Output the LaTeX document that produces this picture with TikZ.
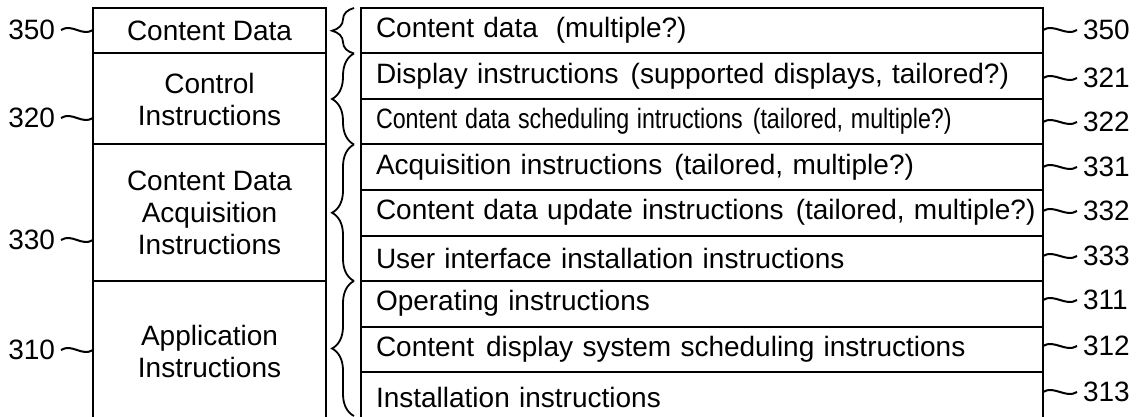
\documentclass[tikz,border=0pt]{standalone}
\usepackage{fontspec}
\setmainfont{Liberation Sans}
\usepackage{graphicx}
\usetikzlibrary{positioning,decorations.pathreplacing}

\begin{document}
\begin{tikzpicture}[x=1pt,y=-1pt,line width=2pt,node distance=0pt,
		font=\fontsize{28}{32}\selectfont,
		group/.style={draw,minimum width=233pt,inner sep=0pt,outer sep=0pt,align=center},
		item/.style={draw,text width=652pt,inner xsep=15pt,inner ysep=0pt,outer sep=0pt,minimum height=45.5pt,align=left},
		num/.style={inner sep=5pt},
		squiggle/.style={line width=1.4pt,to path={.. controls +(11,-7) and +(-11,7) .. (\tikztotarget)}},
		grp/.style={line width=1.8pt,decorate,decoration={brace,amplitude=22pt}}]
		\useasboundingbox (0,0) rectangle (1141,417);
		\clip (0,0) rectangle (1141,417);

		% left column
		\node[group,minimum height=45.5pt,anchor=north west] (cd) at (93,8) {Content Data};
		\node[group,minimum height=91pt] (ctl) [below=of cd] {Control\\Instructions};
		\node[group,minimum height=136.5pt] (acq) [below=of ctl] {Content Data\\Acquisition\\Instructions};
		\node[group,minimum height=140pt] (app) [below=of acq] {Application\\Instructions};

		% right column
		\node[item,anchor=north west] (i350) at (361,8) {Content data\hspace{18pt}(multiple?)};
		\node[item] (i321) [below=of i350] {Display instructions\hspace{12pt}(supported displays, tailored?)};
		\node[item] (i322) [below=of i321] {\scalebox{0.83}[1]{Content data scheduling intructions\hspace{12pt}(tailored, multiple?)}};
		\node[item] (i331) [below=of i322] {Acquisition instructions\hspace{12pt}(tailored, multiple?)};
		\node[item] (i332) [below=of i331] {\mbox{Content data update instructions\hspace{12pt}(tailored, multiple?)}};
		\node[item] (i333) [below=of i332] {User interface installation instructions};
		\node[item] (i311) [below=of i333] {Operating instructions};
		\node[item] (i312) [below=of i311] {Content\hspace{12pt}display system scheduling instructions};
		\node[item,minimum height=50pt] (i313) [below=of i312] {Installation instructions};

		% braces
		\draw[grp] ([xshift=28pt]cd.south east) -- ([xshift=28pt]cd.north east);
		\draw[grp] ([xshift=28pt]ctl.south east) -- ([xshift=28pt]ctl.north east);
		\draw[grp] ([xshift=28pt]acq.south east) -- ([xshift=28pt]acq.north east);
		\draw[grp] ([xshift=28pt,yshift=5pt]app.south east) -- ([xshift=28pt]app.north east);

		% reference numbers
		\node[num,anchor=east] (n350) at (61,30) {350};
		\node[num,anchor=east] (n320) at (61,118) {320};
		\node[num,anchor=east] (n330) at (61,240) {330};
		\node[num,anchor=east] (n310) at (61,350) {310};
		\draw (n350.east) to[squiggle] (n350.east -| cd.west);
		\draw (n320.east) to[squiggle] (n320.east -| ctl.west);
		\draw (n330.east) to[squiggle] (n330.east -| acq.west);
		\draw (n310.east) to[squiggle] (n310.east -| app.west);

		\node[num,anchor=west] (m350) at (1077,30) {350};
		\node[num,anchor=west] (m321) at (1077,78) {321};
		\node[num,anchor=west] (m322) at (1077,122) {322};
		\node[num,anchor=west] (m331) at (1077,167) {331};
		\node[num,anchor=west] (m332) at (1077,211) {332};
		\node[num,anchor=west] (m333) at (1077,256) {333};
		\node[num,anchor=west] (m311) at (1077,300) {311};
		\node[num,anchor=west] (m312) at (1077,346) {312};
		\node[num,anchor=west] (m313) at (1077,392) {313};
		\draw (m350.west -| i350.east) to[squiggle] (m350.west);
		\draw (m321.west -| i321.east) to[squiggle] (m321.west);
		\draw (m322.west -| i322.east) to[squiggle] (m322.west);
		\draw (m331.west -| i331.east) to[squiggle] (m331.west);
		\draw (m332.west -| i332.east) to[squiggle] (m332.west);
		\draw (m333.west -| i333.east) to[squiggle] (m333.west);
		\draw (m311.west -| i311.east) to[squiggle] (m311.west);
		\draw (m312.west -| i312.east) to[squiggle] (m312.west);
		\draw (m313.west -| i313.east) to[squiggle] (m313.west);
	\end{tikzpicture}
\end{document}
